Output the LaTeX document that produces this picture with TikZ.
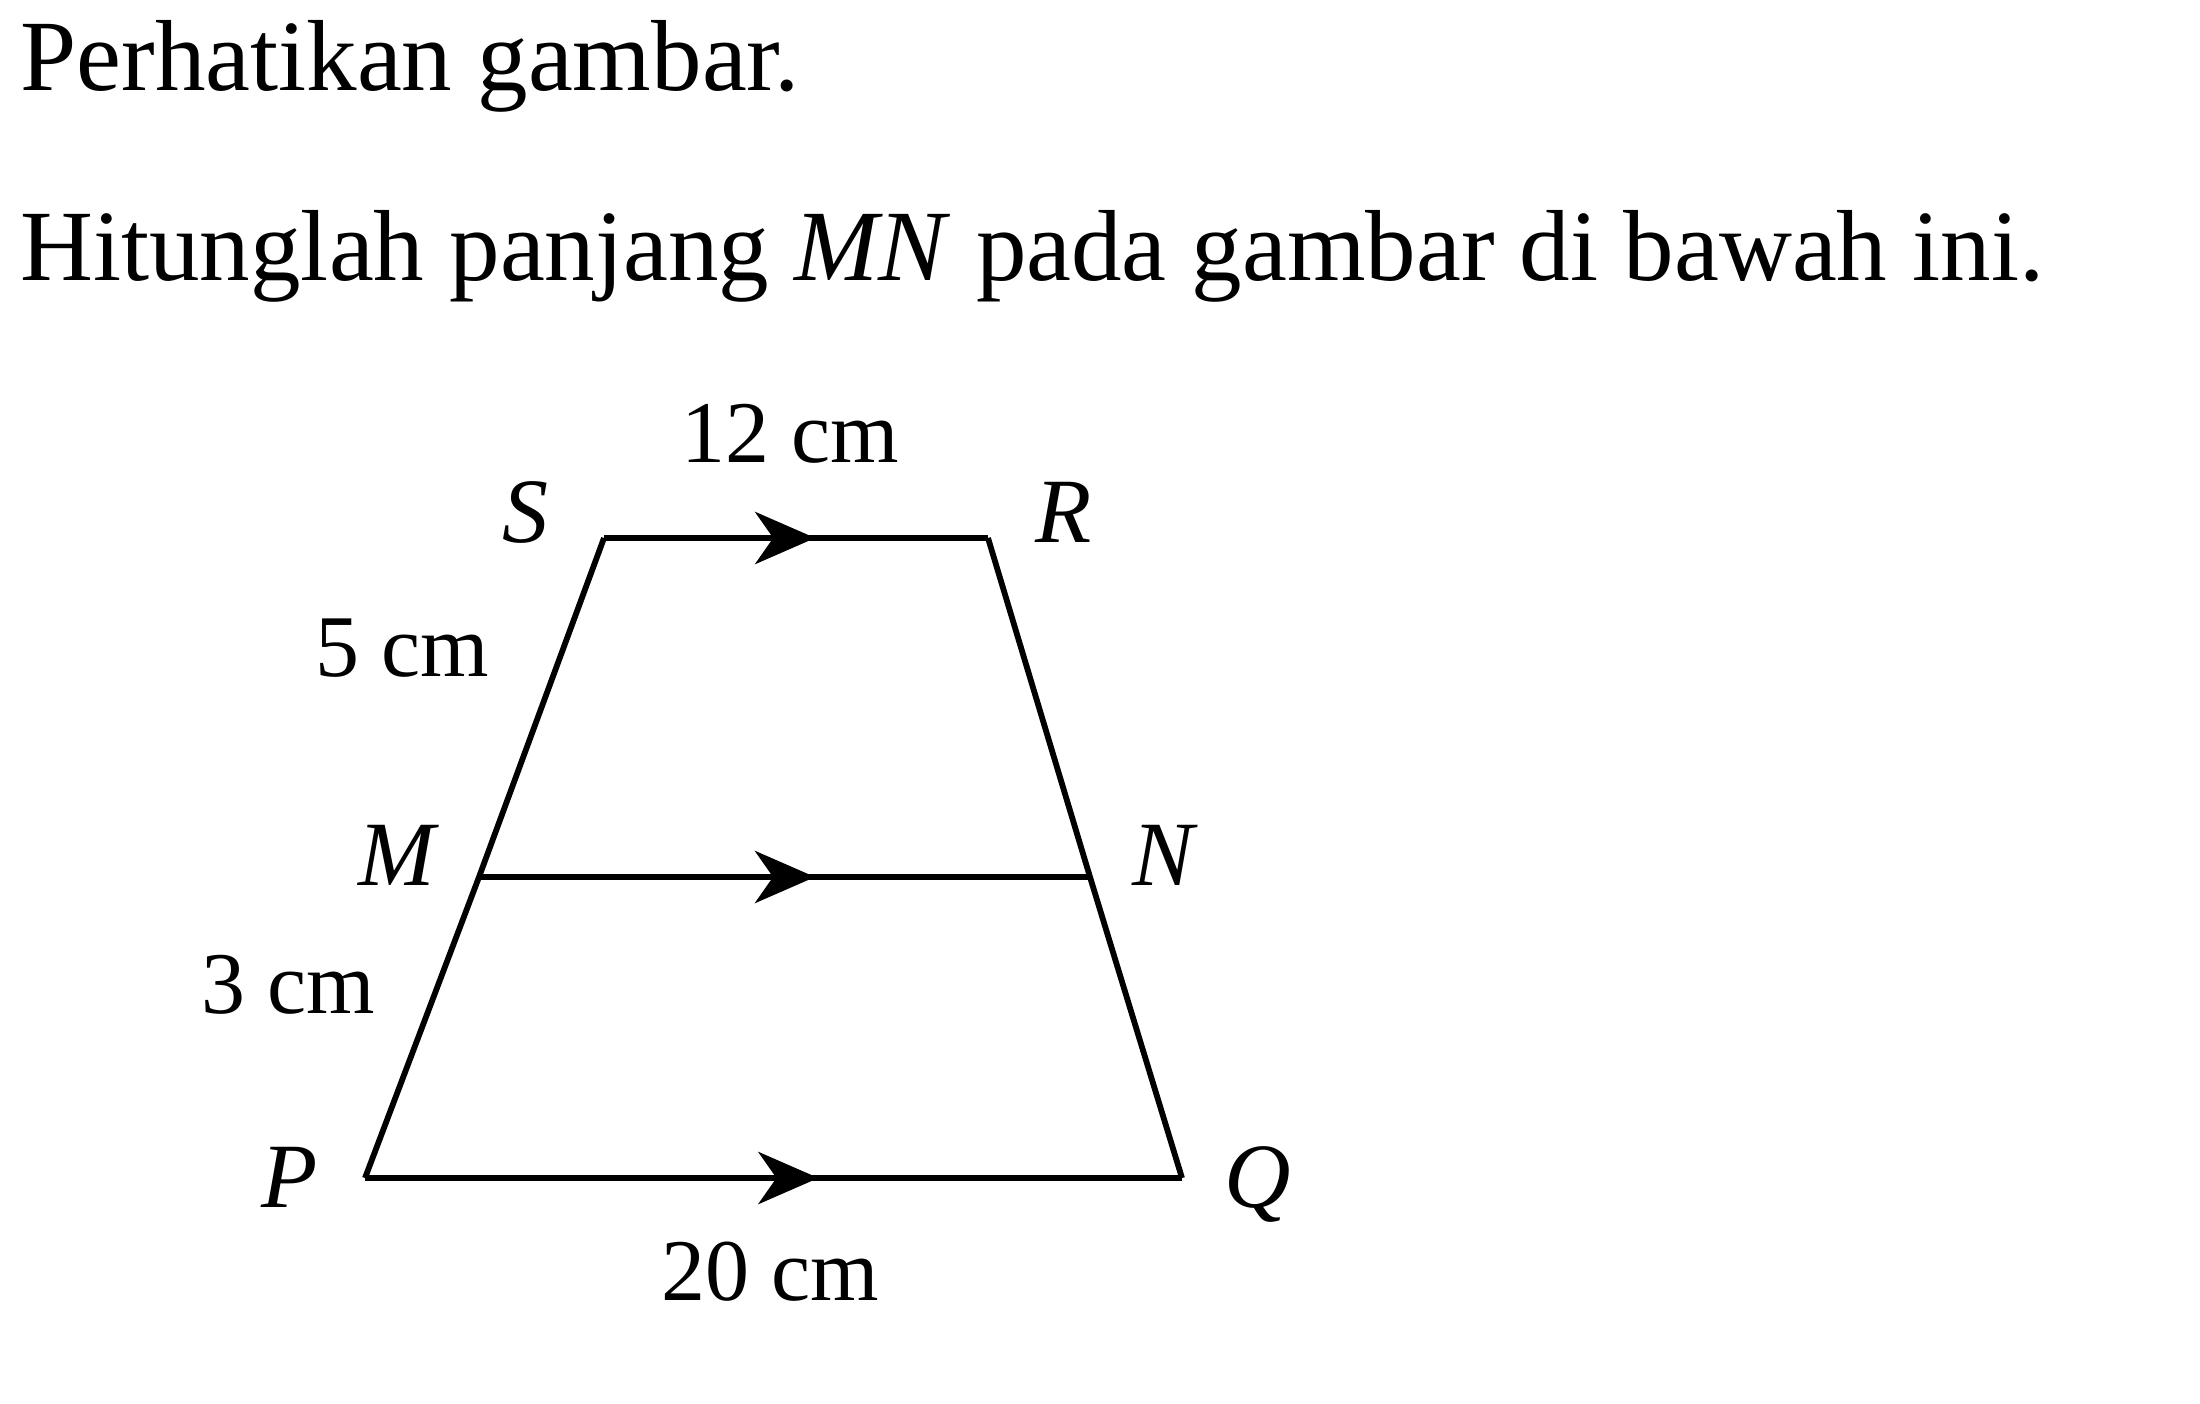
\documentclass[tikz,border=0pt]{standalone}
\usepackage{fontspec}
\setmainfont{Liberation Serif}
\usetikzlibrary{arrows.meta,decorations.markings}
\tikzset{
  maintext/.style={anchor=base west, inner sep=0pt, font=\fontsize{50.5}{60}\selectfont},
  lenlabel/.style={anchor=base, inner sep=0pt, font=\fontsize{44}{52}\selectfont},
  vlabel/.style={anchor=base, inner sep=0pt, font=\fontsize{46}{54}\selectfont\itshape},
  side/.style={line width=2.9pt, line join=miter},
  par/.style={line width=3.4pt, postaction={decorate},
    decoration={markings, mark=at position #1 with {\arrow{Stealth[length=30pt,width=26pt,inset=9pt]}}}},
}
\begin{document}
\begin{tikzpicture}[x=0.5pt,y=-0.5pt]
\useasboundingbox (0,0) rectangle (2200,1403);
\node[maintext] (t1) at (20,90) {Perhatikan gambar.};
\node[maintext] (t2) at (20,280) {Hitunglah panjang \textit{MN} pada gambar di bawah ini.};
\coordinate (S) at (604,538);
\coordinate (R) at (988,538);
\coordinate (M) at (479,877);
\coordinate (N) at (1090,877);
\coordinate (P) at (365,1178);
\coordinate (Q) at (1182,1178);
\draw[side] (S) -- (M) -- (P);
\draw[side] (R) -- (N) -- (Q);
\draw[par=0.55] (S) -- (R);
\draw[par=0.55] (M) -- (N);
\draw[par=0.555] (P) -- (Q);
\node[lenlabel] (l12) at (790,462) {12 cm};
\node[lenlabel] (l5) at (402,676) {5 cm};
\node[lenlabel] (l3) at (288,1013) {3 cm};
\node[lenlabel] (l20) at (770,1300) {20 cm};
\node[vlabel] (lS) at (525,542) {S};
\node[vlabel] (lR) at (1064,542) {R};
\node[vlabel] (lM) at (397,885) {M};
\node[vlabel] (lN) at (1163,885) {N};
\node[vlabel] (lP) at (290,1207) {P};
\node[vlabel] (lQ) at (1258,1207) {Q};
\end{tikzpicture}
\end{document}
